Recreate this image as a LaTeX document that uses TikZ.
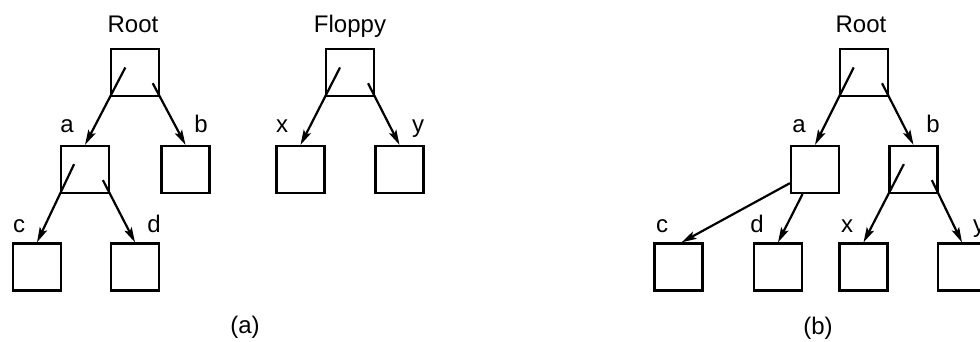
\documentclass[tikz,border=0pt]{standalone}
\usepackage{fontspec}
\setmainfont{Liberation Sans}
\usetikzlibrary{arrows.meta,calc}
\begin{document}
\begin{tikzpicture}[x=1pt,y=-1pt,
 box/.style={draw, line width=2.2pt, minimum width=48pt, minimum height=47pt, inner sep=0pt},
 lbl/.style={font=\fontsize{24}{28}\selectfont, inner sep=0pt, anchor=base},
 arr/.style={line width=2.2pt, -{Stealth[length=15pt,width=8pt,inset=3pt]}}]
\useasboundingbox (0,0) rectangle (980,342);
% (a) left tree
\node[box] (r) at (135,72.5) {};
\node[box] (a) at (85,169.5) {};
\node[box] (b) at (185.5,169.5) {};
\node[box] (c) at (37,267) {};
\node[box] (d) at (135,267) {};
% (a) floppy tree
\node[box] (f) at (350,72.5) {};
\node[box] (x) at (300.5,169.5) {};
\node[box] (y) at (399.5,169.5) {};
% (b)
\node[box] (r2) at (864,72.5) {};
\node[box] (a2) at (815,169.5) {};
\node[box] (b2) at (913.5,169.5) {};
\node[box] (c2) at (678.5,267) {};
\node[box] (d2) at (778,267) {};
\node[box] (x2) at (863.5,267) {};
\node[box] (y2) at (962,267) {};
% labels
\node[lbl] (lroot) at (133,33) {Root};
\node[lbl] (lfloppy) at (350,33) {Floppy};
\node[lbl] (la) at (67,133) {a};
\node[lbl] (lb) at (201,133) {b};
\node[lbl] (lc) at (19,232) {c};
\node[lbl] (ld) at (154,232) {d};
\node[lbl] (lx) at (282,133) {x};
\node[lbl] (ly) at (418,133) {y};
\node[lbl] (capa) at (245,333) {(a)};
\node[lbl] (lroot2) at (861,33) {Root};
\node[lbl] (la2) at (799,133) {a};
\node[lbl] (lb2) at (933,133) {b};
\node[lbl] (lc2) at (662,232) {c};
\node[lbl] (ld2) at (757,232) {d};
\node[lbl] (lx2) at (847,232) {x};
\node[lbl] (ly2) at (979,232) {y};
\node[lbl] (capb) at (818,334) {(b)};
% arrows (a)
\draw[arr] ($(a.north)!1.62!(r.south west)$) -- (a.north);
\draw[arr] ($(b.north)!1.29!(r.south east)$) -- (b.north);
\draw[arr] ($(c.north)!1.62!(a.south west)$) -- (c.north);
\draw[arr] ($(d.north)!1.29!(a.south east)$) -- (d.north);
\draw[arr] ($(x.north)!1.62!(f.south west)$) -- (x.north);
\draw[arr] ($(y.north)!1.29!(f.south east)$) -- (y.north);
% arrows (b)
\draw[arr] ($(a2.north)!1.62!(r2.south west)$) -- (a2.north);
\draw[arr] ($(b2.north)!1.29!(r2.south east)$) -- (b2.north);
\draw[arr] (a2) -- ($(c2.north)+(3,0)$);
\draw[arr] (a2) -- (d2.north);
\draw[arr] ($(x2.north)!1.62!(b2.south west)$) -- (x2.north);
\draw[arr] ($(y2.north)!1.29!(b2.south east)$) -- (y2.north);
\end{tikzpicture}
\end{document}
